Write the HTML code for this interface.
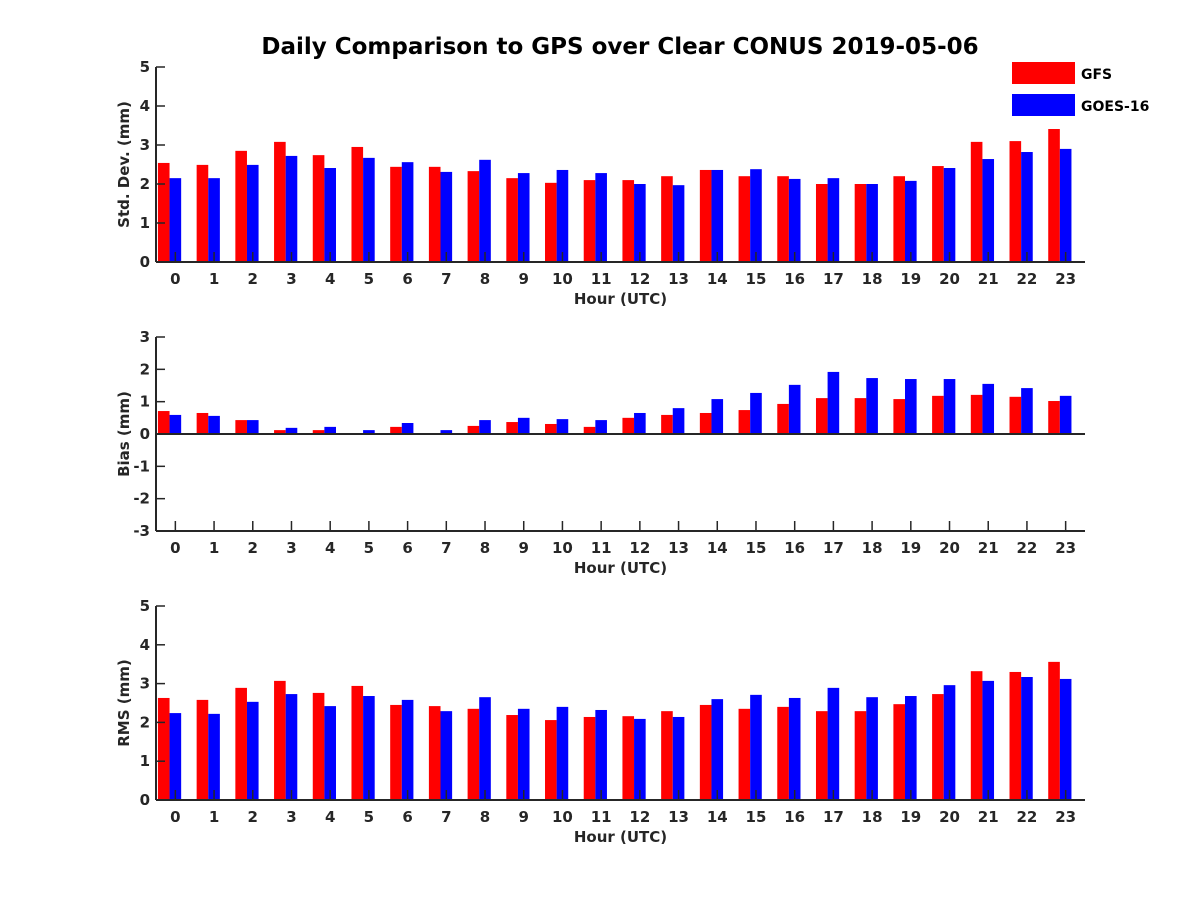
<!DOCTYPE html>
<html><head><meta charset="utf-8"><style>
body{margin:0;background:#fff}
svg{display:block;font-family:"DejaVu Sans","Liberation Sans",sans-serif;font-weight:bold}
</style></head><body>
<svg id="chart" width="1200" height="900" viewBox="0 0 1200 900">
<text x="620" y="54" text-anchor="middle" font-size="23">Daily Comparison to GPS over Clear CONUS 2019-05-06</text>
<g>
<rect x="1012" y="62" width="63" height="22" fill="#ff0000"/>
<text x="1081" y="79" font-size="14">GFS</text>
<rect x="1012" y="94" width="63" height="22" fill="#0000ff"/>
<text x="1081" y="111" font-size="14">GOES-16</text>
</g>
</svg>
<script>
const hours=[0,1,2,3,4,5,6,7,8,9,10,11,12,13,14,15,16,17,18,19,20,21,22,23];
const stdGFS=[2.54,2.49,2.85,3.08,2.74,2.95,2.44,2.44,2.33,2.15,2.03,2.10,2.10,2.20,2.36,2.20,2.20,2.00,2.00,2.20,2.46,3.08,3.10,3.41];
const stdGOES=[2.15,2.15,2.49,2.72,2.41,2.67,2.56,2.31,2.62,2.28,2.36,2.28,2.00,1.97,2.36,2.38,2.13,2.15,2.00,2.08,2.41,2.64,2.82,2.90];
const biasGFS=[0.71,0.65,0.43,0.12,0.12,0.03,0.22,0.01,0.25,0.37,0.31,0.22,0.50,0.59,0.65,0.74,0.93,1.11,1.11,1.08,1.18,1.21,1.15,1.02];
const biasGOES=[0.59,0.56,0.43,0.19,0.22,0.12,0.34,0.12,0.43,0.50,0.46,0.43,0.65,0.80,1.08,1.27,1.52,1.92,1.73,1.70,1.70,1.55,1.42,1.18];
const rmsGFS=[2.63,2.58,2.89,3.07,2.76,2.94,2.45,2.42,2.35,2.19,2.06,2.14,2.16,2.29,2.45,2.35,2.40,2.29,2.29,2.47,2.73,3.32,3.30,3.56];
const rmsGOES=[2.24,2.22,2.53,2.73,2.42,2.68,2.58,2.29,2.65,2.35,2.40,2.32,2.09,2.14,2.60,2.71,2.63,2.89,2.65,2.68,2.96,3.07,3.17,3.12];
const stdTicks=[0,1,2,3,4,5];
const biasTicks=[-3,-2,-1,0,1,2,3];
const rmsTicks=[0,1,2,3,4,5];

const NS="http://www.w3.org/2000/svg";
const svg=document.getElementById('chart');
function mk(tag,attrs,parent){const e=document.createElementNS(NS,tag);for(const k in attrs)e.setAttribute(k,attrs[k]);(parent||svg).appendChild(e);return e;}
const X0=156,X1=1085;
function xs(v){return X0+(v+0.5)/24*(X1-X0);}

function panel(name,top,bottom,ymin,ymax,ticks,ylabel,red,blue){
  const g=mk('g',{});
  
  
  const ys=v=>bottom-(v-ymin)/(ymax-ymin)*(bottom-top);
  const bw=(X1-X0)/24*0.3;
  hours.forEach((h,i)=>{
    [[red[i],-1.5,'#ff0000','gfs'],[blue[i],-0.5,'#0000ff','goes16']].forEach(([v,o,c,s])=>{
      const y0=ys(0),y1=ys(v);
      const r=mk('rect',{x:xs(h)+o*bw,y:Math.min(y0,y1),width:bw,height:Math.abs(y0-y1),fill:c},g);
      
      
    });
  });
  const zl=mk('line',{x1:X0,x2:X1,y1:ys(0),y2:ys(0),stroke:'#262626','stroke-width':2},g);
  
  
  const ya=mk('line',{x1:X0,x2:X0,y1:top,y2:bottom,stroke:'#262626','stroke-width':2},g);
  
  
  if(ymin<0){const xb=mk('line',{x1:X0,x2:X1,y1:bottom,y2:bottom,stroke:'#262626','stroke-width':2},g);
    
    }
  ticks.forEach(t=>{
    mk('line',{x1:X0,x2:X0+9,y1:ys(t),y2:ys(t),stroke:'#262626','stroke-width':1.5},g);
    const tx=mk('text',{x:X0-6,y:ys(t)+5,'text-anchor':'end','font-size':15,fill:'#262626'},g);
    tx.textContent=t;
    
    
  });
  hours.forEach(h=>{
    mk('line',{x1:xs(h),x2:xs(h),y1:bottom,y2:bottom-10,stroke:'#262626','stroke-width':1.5},g);
    const tx=mk('text',{x:xs(h),y:bottom+22,'text-anchor':'middle','font-size':15,fill:'#262626'},g);
    tx.textContent=h;
    
    
  });
  const xl=mk('text',{x:(X0+X1)/2,y:bottom+42,'text-anchor':'middle','font-size':15,fill:'#262626'},g);
  xl.textContent='Hour (UTC)';
  
  
  const cy=(top+bottom)/2;
  const yl=mk('text',{x:129,y:cy,'text-anchor':'middle','font-size':15,fill:'#262626',transform:'rotate(-90 129 '+cy+')'},g);
  yl.textContent=ylabel;
  
  
}
panel('std-dev',67,262,0,5,stdTicks,'Std. Dev. (mm)',stdGFS,stdGOES);
panel('bias',337,531,-3,3,biasTicks,'Bias (mm)',biasGFS,biasGOES);
panel('rms',606,800,0,5,rmsTicks,'RMS (mm)',rmsGFS,rmsGOES);
</script>
</body></html>
